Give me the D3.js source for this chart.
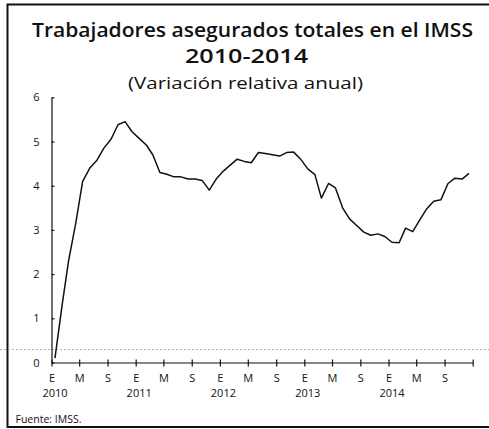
<!DOCTYPE html>
<html><head><meta charset="utf-8">
<script src="https://cdn.jsdelivr.net/npm/d3@7"></script>
<style>
html,body{margin:0;padding:0;background:#fff;}
svg{display:block;font-family:"Open Sans",sans-serif;}
</style></head>
<body>
<svg id="c" width="489" height="429"></svg>
<script>
// ---- data ----
const titleLines = ["Trabajadores asegurados totales en el IMSS", "2010-2014", "(Variación relativa anual)"];
const source = "Fuente: IMSS.";
const startYear = 2010;
// monthly annual change (%) Jan 2010 .. Dec 2014
const values = [
  0.1, 1.3, 2.3, 3.15, 4.1, 4.4, 4.57, 4.85, 5.05, 5.38, 5.45, 5.22,
  5.07, 4.92, 4.7, 4.3, 4.26, 4.2, 4.2, 4.15, 4.15, 4.12, 3.9, 4.15,
  4.33, 4.47, 4.6, 4.55, 4.52, 4.75, 4.73, 4.7, 4.67, 4.75, 4.76, 4.6,
  4.38, 4.25, 3.72, 4.05, 3.95, 3.5, 3.25, 3.1, 2.95, 2.88, 2.91, 2.85,
  2.72, 2.71, 3.04, 2.96, 3.22, 3.48, 3.65, 3.68, 4.05, 4.17, 4.15, 4.28
];
const monthLabels = {0: "E", 4: "M", 8: "S"};
const yearLabels = ["2010", "2011", "2012", "2013", "2014"];
const yTicks = [0, 1, 2, 3, 4, 5, 6];

// ---- drawing ----
const svg = d3.select("#c");
const data = values.map((v, i) => ({date: new Date(startYear, i, 16), value: v}));

const x = d3.scaleTime().domain([new Date(2010, 0, 1), new Date(2015, 0, 1)]).range([51.5, 472.7]);
const y = d3.scaleLinear().domain([0, 6]).range([362.5, 97.3]);

// frame
svg.append("rect").attr("x", 7.5).attr("y", 4.5).attr("width", 500).attr("height", 422.5)
  .attr("fill", "none").attr("stroke", "#111").attr("stroke-width", 2);

// scan fold line
svg.append("line").attr("x1", 0).attr("x2", 489).attr("y1", 349.5).attr("y2", 349.5)
  .attr("stroke", "#b0b0b0").attr("stroke-width", 1).attr("stroke-dasharray", "2,2");

// titles
const tspecs = [
  {cx: 252.5, y: 36.7, w: 441, size: 20, weight: 600},
  {cx: 246.5, y: 63.3, w: 123, size: 20, weight: 600},
  {cx: 245.5, y: 89, w: 235, size: 17, weight: 400}
];
titleLines.forEach((t, i) => {
  const s = tspecs[i];
  svg.append("text").attr("x", s.cx - s.w / 2).attr("y", s.y)
    .attr("font-size", s.size).attr("font-weight", s.weight).attr("fill", "#111")
    .attr("textLength", s.w).attr("lengthAdjust", "spacingAndGlyphs").text(t);
});

// y axis
const yAxis = d3.axisLeft(y).tickValues(yTicks).tickFormat(d3.format("d"))
  .tickSizeInner(-3).tickSizeOuter(0).tickPadding(12);
const gy = svg.append("g").attr("transform", "translate(51.5,0)").call(yAxis);
gy.selectAll("text").attr("font-size", 11).attr("font-family", "Open Sans, sans-serif").attr("fill", "#111");
gy.selectAll("line,path").attr("stroke", "#111").attr("stroke-width", 1.2);

// x axis
const xTicks = d3.timeMonth.every(4).range(new Date(2010, 0, 1), new Date(2015, 0, 2));
const xAxis = d3.axisBottom(x).tickValues(xTicks)
  .tickFormat(d => d.getFullYear() >= 2015 ? "" : monthLabels[d.getMonth()])
  .tickSizeInner(4).tickSizeOuter(0).tickPadding(8);
const gx = svg.append("g").attr("transform", "translate(0,362.5)").call(xAxis);
gx.selectAll(".tick line").attr("y1", -3).attr("y2", 4);
gx.selectAll("text").attr("font-size", 11).attr("font-family", "Open Sans, sans-serif").attr("fill", "#111");
gx.selectAll("line,path").attr("stroke", "#111").attr("stroke-width", 1.2);

// year labels
svg.append("g").selectAll("text").data(yearLabels).join("text")
  .attr("x", d => x(new Date(+d, 0, 1)) + 3.5).attr("y", 397)
  .attr("text-anchor", "middle").attr("font-size", 11).attr("fill", "#111").text(d => d);

// line
const line = d3.line().x(d => x(d.date)).y(d => y(d.value));
svg.append("path").datum(data).attr("d", line)
  .attr("fill", "none").attr("stroke", "#111").attr("stroke-width", 1.5).attr("stroke-linejoin", "round");

// source
svg.append("text").attr("x", 15.5).attr("y", 423).attr("font-size", 10.5).attr("fill", "#111").text(source);
</script>
</body></html>
